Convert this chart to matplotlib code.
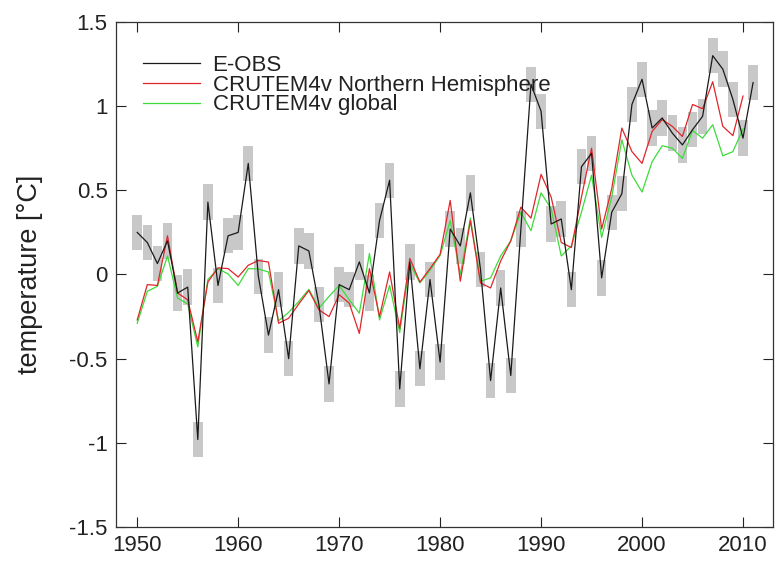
import numpy as np
import matplotlib
matplotlib.use("Agg")
from matplotlib import pyplot as plt


# yearly temperature anomalies
years = np.arange(1950, 2012)

eobs = [0.25, 0.19, 0.065, 0.20, -0.11, -0.075, -0.98, 0.43, -0.065, 0.23,
        0.25, 0.66, -0.01, -0.36, -0.09, -0.50, 0.17, 0.14, -0.18, -0.65,
        -0.06, -0.09, 0.075, -0.11, 0.32, 0.56, -0.68, 0.075, -0.56, -0.03,
        -0.52, 0.27, 0.17, 0.485, 0.03, -0.63, -0.08, -0.60, 0.27, 1.13,
        0.97, 0.30, 0.33, -0.09, 0.64, 0.72, -0.02, 0.37, 0.48, 1.01,
        1.16, 0.87, 0.93, 0.84, 0.77, 0.86, 0.94, 1.30, 1.22, 1.04,
        0.81, 1.14]

crutem_nh = [-0.27, -0.06, -0.065, 0.23, -0.11, -0.15, -0.40, -0.045, 0.04, 0.035,
             -0.015, 0.055, 0.083, 0.074, -0.29, -0.26, -0.175, -0.095, -0.21, -0.25,
             -0.12, -0.17, -0.35, 0.035, -0.25, 0.015, -0.32, 0.095, -0.045, 0.035,
             0.12, 0.44, -0.04, 0.32, -0.05, -0.08, 0.08, 0.20, 0.40, 0.335,
             0.595, 0.46, 0.19, 0.16, 0.46, 0.75, 0.27, 0.51, 0.87, 0.73,
             0.66, 0.85, 0.92, 0.88, 0.82, 1.01, 0.985, 1.145, 0.88, 0.825,
             1.06]

crutem_gl = [-0.29, -0.10, -0.07, 0.11, -0.14, -0.175, -0.43, -0.03, 0.035, 0.003,
             -0.065, 0.035, 0.033, 0.015, -0.275, -0.225, -0.16, -0.088, -0.20, -0.13,
             -0.065, -0.15, -0.23, 0.125, -0.27, -0.065, -0.345, 0.065, -0.05, 0.025,
             0.113, 0.32, 0.0, 0.335, -0.04, -0.02, 0.11, 0.20, 0.37, 0.26,
             0.485, 0.39, 0.11, 0.17, 0.37, 0.59, 0.22, 0.46, 0.80, 0.59,
             0.49, 0.67, 0.765, 0.75, 0.69, 0.855, 0.81, 0.89, 0.705, 0.73,
             0.865]

labels = ["E-OBS", "CRUTEM4v Northern Hemisphere", "CRUTEM4v global"]

plt.rcParams['font.family'] = ['Liberation Sans', 'DejaVu Sans']

fig = plt.figure(figsize=(7.76, 5.61), dpi=100)
ax = fig.add_axes([0.1495, 0.0606, 0.847, 0.9002])

# grey uncertainty boxes behind the E-OBS series
eobs_arr = np.array(eobs)
box_half = 0.105
ax.bar(years, 2 * box_half, bottom=eobs_arr - box_half, width=0.95,
       color='#c8c8c8', linewidth=0, zorder=1)

ax.plot(years, eobs, color='#1a1a1a', linewidth=0.9, label=labels[0], zorder=4)
ax.plot(years[:len(crutem_nh)], crutem_nh, color='#e0262a', linewidth=0.9,
        label=labels[1], zorder=3)
ax.plot(years[:len(crutem_gl)], crutem_gl, color='#3ddc3a', linewidth=0.9,
        label=labels[2], zorder=2)

# Figure formatting
ax.set_xlim(1947.9, 2013)
ax.set_ylim(-1.5, 1.5)
ax.set_xticks(np.arange(1950, 2011, 10))
ax.set_yticks([-1.5, -1, -0.5, 0, 0.5, 1, 1.5])
ax.set_yticklabels(["-1.5", "-1", "-0.5", "0", "0.5", "1", "1.5"])
ax.tick_params(direction='in', top=True, right=True, length=7, width=0.8,
               labelsize=16, colors='#222222', pad=6)
for s in ax.spines.values():
    s.set_linewidth(0.9)
    s.set_color('#333333')

ax.set_ylabel("temperature [\u00b0C]", fontsize=19.5, color='#222222', labelpad=19)

leg = ax.legend(loc='upper left', frameon=False, fontsize=16, handlelength=2.6,
                handletextpad=0.55, labelspacing=-0.05, borderaxespad=0.5,
                bbox_to_anchor=(0.01, 0.975))
for t in leg.get_texts():
    t.set_color('#222222')

fig.savefig("out.png", dpi=100)
